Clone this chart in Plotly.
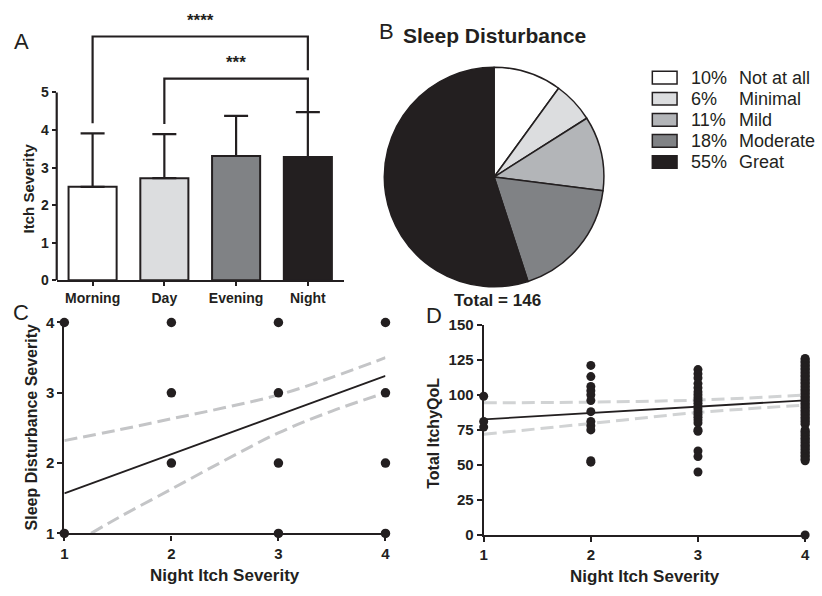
import plotly.graph_objects as go

# ---------------- data ----------------
times = ["Morning", "Day", "Evening", "Night"]
itch_mean = [2.49, 2.72, 3.31, 3.28]
itch_sd = [1.42, 1.17, 1.07, 1.20]
bar_colors = ["#ffffff", "#dcdddf", "#808285", "#231f20"]
sig_pairs = [(0, 3), (1, 3)]
sig_labels = ["****", "***"]

pie_labels = ["Not at all", "Minimal", "Mild", "Moderate", "Great"]
pie_pct = [10, 6, 11, 18, 55]
pie_colors = ["#ffffff", "#dcdddf", "#b3b5b8", "#808285", "#231f20"]
total_n = 146

c_x = [1, 1, 2, 2, 2, 3, 3, 3, 3, 4, 4, 4, 4]
c_y = [4, 1, 4, 3, 2, 4, 3, 2, 1, 4, 3, 2, 1]
c_fit_x = [1, 4]
c_fit_y = [1.57, 3.24]
c_up_x = [1, 1.5, 2, 2.5, 3, 3.5, 4]
c_up_y = [2.32, 2.47, 2.63, 2.79, 2.97, 3.22, 3.50]
c_lo_x = [1.25, 1.5, 2, 2.5, 3, 3.5, 4]
c_lo_y = [1.00, 1.22, 1.63, 2.04, 2.43, 2.74, 3.00]

d_x1 = [99, 81, 77]
d_x2 = [121, 113, 106, 103, 100, 96, 88, 81, 78, 75, 53, 52]
d_x3 = [118, 115, 112, 108, 105, 102, 100, 98, 96, 94, 92, 90, 88, 86, 84, 82,
        80, 75, 74, 60, 56, 45]
d_x4 = [126, 125, 124, 123, 122, 121, 120, 119, 118, 117, 116, 115, 114, 113,
        112, 111, 110, 109, 108, 107, 106, 105, 104, 103, 102, 101, 100, 99,
        98, 97, 96, 95, 94, 93, 92, 91, 90, 89, 88, 87, 86, 85, 84, 83, 82,
        81, 80, 79, 75, 74, 73, 72, 71, 70, 69, 68, 67, 66, 65, 64, 63, 62,
        61, 60, 59, 58, 57, 56, 55, 54, 53, 0]
d_fit_x = [1, 4]
d_fit_y = [82.5, 96.1]
d_ci_x = [1, 2, 3, 4]
d_up_y = [94.3, 94.8, 96.3, 99.8]
d_lo_y = [71.9, 79.6, 87.4, 92.7]

# ---------------- styling ----------------
W, H = 822, 596
INK = "#231f20"
FONT = "Liberation Sans, Arial, sans-serif"


def px(x):
    return x / W


def py(y):
    return 1 - y / H


bold = lambda s: dict(family=FONT, size=s, color=INK, weight="bold")
reg = lambda s: dict(family=FONT, size=s, color=INK)

fig = go.Figure()

# ---------------- Panel A ----------------
xpos = list(range(len(times)))
fig.add_trace(go.Bar(
    x=xpos, y=itch_mean, width=0.67,
    marker=dict(color=bar_colors, line=dict(color=INK, width=2)),
    error_y=dict(type="data", symmetric=False, array=itch_sd,
                 arrayminus=[0] * len(itch_sd), color=INK, thickness=2.2, width=12),
    xaxis="x", yaxis="y", showlegend=False, hoverinfo="skip"))

tops = [m + s for m, s in zip(itch_mean, itch_sd)]
levels = [6.49, 5.37]
ends = [5.59, tops[3]]
for (a, b), lab, lev, yb in zip(sig_pairs, sig_labels, levels, ends):
    ya = tops[a] + 0.27
    fig.add_trace(go.Scatter(
        x=[a, a, b, b], y=[ya, lev, lev, yb], mode="lines",
        line=dict(color=INK, width=2.2), xaxis="x", yaxis="y",
        showlegend=False, hoverinfo="skip", cliponaxis=False))
    fig.add_annotation(x=(a + b) / 2, y=lev + 0.12, xref="x", yref="y",
                       text=lab, showarrow=False, font=bold(17),
                       xanchor="center", yanchor="bottom")

# y axis line only 0..5
fig.add_shape(type="line", xref="x domain", yref="y", x0=0, x1=0, y0=0, y1=5,
              line=dict(color=INK, width=2.2))

# ---------------- Panel B ----------------
fig.add_trace(go.Pie(
    labels=pie_labels, values=pie_pct, sort=False, direction="clockwise",
    rotation=0, textinfo="none", hoverinfo="skip", showlegend=False,
    marker=dict(colors=pie_colors, line=dict(color=INK, width=1.5)),
    domain=dict(x=[px(382.7), px(608.3)], y=[py(286), py(60)])))

for i, (lab, p, c) in enumerate(zip(pie_labels, pie_pct, pie_colors)):
    yc = 70.7 + i * 21.7
    fig.add_shape(type="rect", xref="paper", yref="paper",
                  x0=px(655.5), x1=px(680.5), y0=py(yc + 6.5), y1=py(yc - 6.5),
                  fillcolor=c, line=dict(color=INK, width=1.5))
    fig.add_annotation(x=px(693), y=py(yc), xref="paper", yref="paper",
                       text=f"{p}%", showarrow=False, font=reg(18),
                       xanchor="left", yanchor="middle")
    fig.add_annotation(x=px(741), y=py(yc), xref="paper", yref="paper",
                       text=lab, showarrow=False, font=reg(18),
                       xanchor="left", yanchor="middle")

fig.add_annotation(x=px(496), y=py(27), xref="paper", yref="paper",
                   text="Sleep Disturbance", showarrow=False, font=bold(21),
                   xanchor="center", yanchor="middle")
fig.add_annotation(x=px(499), y=py(300), xref="paper", yref="paper",
                   text=f"Total = {total_n}", showarrow=False, font=bold(17),
                   xanchor="center", yanchor="middle")

# ---------------- Panel C ----------------
dash_c = dict(color="#c4c5c7", width=3, dash="13px,6px", shape="spline")
fig.add_trace(go.Scatter(x=c_up_x, y=c_up_y, mode="lines", line=dash_c,
                         xaxis="x2", yaxis="y2", showlegend=False, hoverinfo="skip"))
fig.add_trace(go.Scatter(x=c_lo_x, y=c_lo_y, mode="lines", line=dash_c,
                         xaxis="x2", yaxis="y2", showlegend=False, hoverinfo="skip"))
fig.add_trace(go.Scatter(x=c_fit_x, y=c_fit_y, mode="lines",
                         line=dict(color=INK, width=1.8),
                         xaxis="x2", yaxis="y2", showlegend=False, hoverinfo="skip"))
fig.add_trace(go.Scatter(x=c_x, y=c_y, mode="markers",
                         marker=dict(color=INK, size=9.5),
                         xaxis="x2", yaxis="y2", showlegend=False,
                         hoverinfo="skip", cliponaxis=False))

# ---------------- Panel D ----------------
dash_d = dict(color="#d1d3d4", width=3, dash="13px,6px", shape="spline")
fig.add_trace(go.Scatter(x=d_ci_x, y=d_up_y, mode="lines", line=dash_d,
                         xaxis="x3", yaxis="y3", showlegend=False, hoverinfo="skip"))
fig.add_trace(go.Scatter(x=d_ci_x, y=d_lo_y, mode="lines", line=dash_d,
                         xaxis="x3", yaxis="y3", showlegend=False, hoverinfo="skip"))
fig.add_trace(go.Scatter(x=d_fit_x, y=d_fit_y, mode="lines",
                         line=dict(color=INK, width=1.8),
                         xaxis="x3", yaxis="y3", showlegend=False, hoverinfo="skip"))
groups = [d_x1, d_x2, d_x3, d_x4]
dx, dy = [], []
for k, g in enumerate(groups, start=1):
    dx += [k] * len(g)
    dy += g
fig.add_trace(go.Scatter(x=dx, y=dy, mode="markers",
                         marker=dict(color=INK, size=9),
                         xaxis="x3", yaxis="y3", showlegend=False,
                         hoverinfo="skip", cliponaxis=False))

# ---------------- panel letters & axis titles ----------------
for t, x, y in [("A", 18, 33), ("B", 387, 23), ("C", 17, 312), ("D", 435, 315)]:
    fig.add_annotation(x=px(x), y=py(y), xref="paper", yref="paper", text=t,
                       showarrow=False, font=reg(22), xanchor="center", yanchor="middle")

titles = [
    ("Itch Severity", 25, 185, -90, 15),
    ("Sleep Disturbance Severity", 28, 431, -90, 16),
    ("Night Itch Severity", 223, 583, 0, 17),
    ("Total ItchyQoL", 434, 437, -90, 16),
    ("Night Itch Severity", 648, 584, 0, 17),
]
for t, x, y, ang, s in titles:
    fig.add_annotation(x=px(x), y=py(y), xref="paper", yref="paper", text=t,
                       showarrow=False, font=bold(s), textangle=ang,
                       xanchor="center", yanchor="middle")

axcommon = dict(showgrid=False, zeroline=False, showline=True, linecolor=INK,
                linewidth=2.2, tickcolor=INK, tickwidth=2.2, fixedrange=True)

fig.update_layout(
    width=W, height=H, margin=dict(l=0, r=0, t=0, b=0),
    paper_bgcolor="white", plot_bgcolor="white", showlegend=False,
    xaxis=dict(domain=[px(53.3), px(343.5)], range=[-0.5, 3.5],
               tickvals=xpos, ticktext=times, ticks="outside", ticklen=4,
               tickfont=bold(14), anchor="y", **axcommon),
    yaxis=dict(domain=[py(279.3), py(279.3 - 7 * 38.67)], range=[0, 7],
               tickvals=[0, 1, 2, 3, 4, 5], ticks="outside", ticklen=4,
               tickfont=bold(14), anchor="x",
               **{**axcommon, "showline": False}),
    xaxis2=dict(domain=[px(61), px(385.7)], range=[1, 4], tickvals=[1, 2, 3, 4],
                ticks="outside", ticklen=5, tickfont=bold(15), anchor="y2", **axcommon),
    yaxis2=dict(domain=[py(539.8), py(322.7)], range=[1, 4], tickvals=[1, 2, 3, 4],
                ticks="outside", ticklen=5, tickfont=bold(15), anchor="x2", **axcommon),
    xaxis3=dict(domain=[px(485), px(810)], range=[1, 4], tickvals=[1, 2, 3, 4],
                ticks="outside", ticklen=5, tickfont=bold(15), anchor="y3", **axcommon),
    yaxis3=dict(domain=[py(541.5), py(325)], range=[0, 150],
                tickvals=[0, 25, 50, 75, 100, 125, 150],
                ticks="outside", ticklen=5, tickfont=bold(15), anchor="x3", **axcommon),
)

fig.write_html("out.html", config={"displayModeBar": False},
               post_script="document.body.style.margin='0';"
                           "document.body.style.overflow='hidden';")
